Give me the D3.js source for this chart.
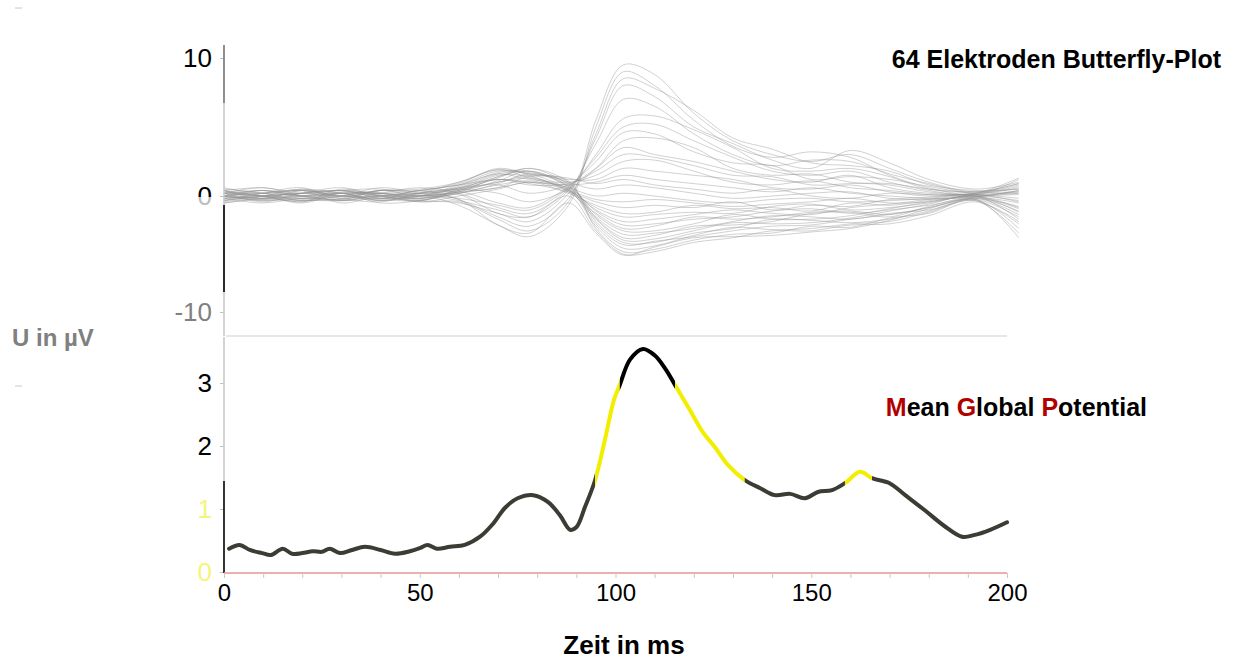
<!DOCTYPE html>
<html>
<head>
<meta charset="utf-8">
<script src="https://cdn.jsdelivr.net/npm/d3@7"></script>
<style>
  body { margin: 0; background: #fff; }
  text { font-family: "Liberation Sans", Arial, sans-serif; }
</style>
</head>
<body>
<svg id="chart" width="1233" height="660"></svg>
<script>
// ---- data ----
const timeTicks = [0, 50, 100, 150, 200];
const butterflyTicks = [-10, 0, 10];
const mgpTicks = [0, 1, 2, 3];

// ms sample points of the electrode traces (µV)
const butterflyTimes = [0, 10, 20, 30, 40, 50, 60, 70, 78, 88, 95, 102, 110, 120, 130, 140, 150, 160, 170, 180, 192, 203];
const butterflyTraces = [
  [0.5, 0.2, -0.4, 0.3, 0.1, -0.5, -0.5, -2.0, -3.0, -0.5, 5.5, 9.5, 8.8, 6.0, 4.0, 3.0, 2.5, 3.0, 2.0, 1.0, 0.3, 0.8],
  [0.2, 0.6, 0.0, -0.3, 0.4, 0.1, -0.8, -2.5, -3.5, -0.8, 5.0, 9.0, 8.0, 5.5, 3.6, 2.8, 3.2, 2.8, 1.5, 0.6, 0.1, 1.2],
  [-0.5, 0.0, 0.5, 0.2, -0.3, 0.4, -0.3, -1.8, -2.6, -0.2, 4.5, 8.5, 7.8, 6.2, 4.2, 3.4, 2.4, 2.2, 1.8, 0.8, 0.4, 0.5],
  [0.4, -0.3, 0.2, 0.6, 0.0, -0.4, -0.6, -1.5, -2.2, 0.2, 4.2, 8.0, 7.2, 5.0, 3.8, 2.6, 2.0, 3.3, 2.4, 1.2, 0.5, 1.0],
  [0.0, 0.4, -0.2, 0.0, 0.6, 0.2, -0.4, -1.2, -1.8, 0.4, 3.8, 7.0, 6.5, 4.5, 3.0, 2.2, 2.6, 2.5, 1.6, 0.9, 0.2, 0.6],
  [-0.3, 0.2, 0.6, -0.4, 0.2, 0.6, 0.2, -1.0, -1.5, 0.5, 3.0, 5.6, 5.8, 4.8, 3.5, 2.0, 1.8, 2.0, 1.4, 0.5, 0.3, 0.9],
  [0.4, 0.0, -0.5, 0.2, -0.4, 0.0, -0.2, -0.8, -1.2, 0.6, 2.8, 5.0, 5.2, 4.0, 2.8, 1.8, 1.5, 1.8, 1.0, 0.4, 0.0, 0.4],
  [0.2, -0.5, 0.2, 0.4, 0.2, -0.2, 0.3, -0.6, -1.0, 0.7, 2.5, 4.6, 4.5, 3.2, 2.4, 2.2, 1.2, 1.4, 1.2, 0.7, 0.2, 0.7],
  [-0.6, -0.2, 0.0, -0.3, 0.4, 0.3, 0.5, 0.2, -0.5, 0.5, 2.0, 4.0, 4.2, 3.5, 2.0, 1.5, 1.6, 1.0, 0.8, 0.3, 0.1, 0.3],
  [0.0, 0.2, 0.4, 0.0, -0.2, 0.2, 0.6, 0.8, 0.2, 0.8, 2.0, 3.5, 3.0, 2.5, 1.8, 1.2, 1.0, 1.5, 0.6, 0.2, 0.2, 1.3],
  [0.4, 0.6, 0.2, 0.4, 0.5, 0.0, 0.4, 1.2, 0.8, 0.9, 1.8, 3.0, 2.8, 2.2, 1.5, 1.4, 0.8, 0.9, 0.9, 0.5, 0.3, 0.5],
  [-0.2, 0.0, -0.5, 0.5, 0.0, 0.4, 0.8, 1.6, 1.2, 1.0, 1.5, 2.5, 2.6, 1.8, 1.0, 0.8, 1.1, 0.6, 0.4, 0.1, 0.0, 0.2],
  [0.2, -0.3, 0.4, -0.2, -0.5, 0.2, 0.5, 1.0, 1.5, 1.2, 1.2, 2.0, 1.8, 1.5, 1.2, 0.6, 0.5, 0.8, 0.3, 0.0, 0.2, 0.9],
  [0.0, 0.4, 0.0, 0.2, 0.2, -0.3, 0.2, 0.6, 1.0, 0.8, 1.0, 1.5, 1.2, 0.9, 0.6, 0.3, 0.6, 0.2, 0.0, -0.2, -0.1, 0.4],
  [0.6, 0.2, 0.5, 0.0, 0.4, 0.5, 1.0, 1.9, 1.6, 1.3, 0.9, 1.2, 0.8, 0.5, 0.2, 0.5, 0.0, -0.2, 0.2, 0.1, 0.1, -0.2],
  [-0.4, 0.0, 0.2, 0.4, -0.2, 0.0, 0.3, 1.4, 1.8, 1.0, 0.5, 0.8, 0.6, 0.2, -0.2, 0.0, 0.2, 0.3, -0.2, -0.3, 0.0, 0.1],
  [0.2, 0.0, -0.3, -0.4, 0.0, 0.2, 0.4, 1.0, 1.3, 0.6, 0.0, 0.2, 0.0, -0.4, -0.6, -0.3, -0.2, -0.5, -0.4, -0.2, 0.1, -0.5],
  [0.0, -0.4, 0.0, 0.2, -0.6, -0.4, 0.2, 0.8, 1.1, 0.4, -0.3, -0.5, -0.3, -0.6, -0.9, -0.7, -0.5, -0.2, -0.6, -0.5, 0.0, -1.0],
  [-0.4, 0.2, 0.4, 0.0, 0.2, 0.0, 0.6, 1.2, 0.9, 0.3, -0.5, -1.0, -0.8, -1.0, -0.5, -1.2, -0.8, -0.9, -0.3, -0.1, 0.2, 0.3],
  [0.3, 0.0, -0.6, 0.2, 0.0, -0.5, 0.0, 0.5, 1.0, 0.2, -0.8, -1.5, -1.4, -0.8, -1.1, -1.0, -1.3, -0.6, -0.8, -0.4, -0.1, -0.6],
  [-0.2, -0.6, -0.2, -0.4, 0.2, 0.2, 0.5, 1.5, 1.4, 0.4, -1.0, -1.8, -1.6, -1.4, -1.5, -0.9, -0.7, -1.2, -1.0, -0.6, 0.0, -1.4],
  [0.2, 0.4, 0.0, 0.2, -0.4, 0.0, 0.8, 1.8, 1.6, 0.5, -1.2, -2.2, -2.0, -1.6, -1.2, -1.5, -1.6, -1.0, -0.7, -0.3, 0.1, 0.2],
  [-0.6, -0.2, 0.2, -0.2, 0.0, -0.2, 0.3, 1.1, 1.8, 0.7, -1.3, -2.5, -2.4, -2.0, -1.8, -1.3, -1.1, -1.5, -1.2, -0.8, -0.2, -0.9],
  [0.0, 0.2, -0.4, 0.0, 0.4, 0.4, 0.9, 2.0, 1.5, 0.3, -1.5, -2.8, -2.6, -1.8, -2.0, -1.8, -1.4, -1.3, -1.6, -1.0, -0.3, -1.8],
  [0.4, -0.2, 0.0, 0.4, -0.2, -0.4, 0.4, 1.3, 2.0, 0.8, -1.6, -3.0, -3.0, -2.4, -1.6, -2.0, -2.0, -1.7, -1.1, -0.5, 0.0, -0.4],
  [-0.2, 0.0, 0.4, -0.6, 0.0, 0.0, 0.7, 1.7, 1.8, 0.6, -1.8, -3.3, -3.2, -2.8, -2.2, -1.7, -1.8, -2.0, -1.5, -1.2, -0.4, -2.4],
  [0.0, -0.4, -0.2, 0.2, 0.2, -0.2, 0.2, 0.9, 1.6, 0.9, -1.9, -3.6, -3.4, -2.6, -2.5, -2.2, -1.5, -1.4, -1.8, -0.9, -0.1, -1.1],
  [0.2, 0.2, 0.0, 0.0, -0.4, 0.2, 1.0, 1.9, 1.3, 0.4, -2.0, -3.8, -3.7, -3.0, -2.3, -2.4, -2.3, -1.9, -1.3, -0.7, 0.0, -2.0],
  [-0.4, 0.0, 0.2, 0.4, 0.0, -0.4, 0.5, 1.4, 2.0, 1.0, -2.2, -4.0, -4.0, -3.2, -2.8, -2.0, -2.1, -2.3, -2.0, -1.3, -0.3, -2.8],
  [0.0, -0.2, -0.4, -0.2, 0.4, 0.0, 0.6, 1.6, 1.7, 0.7, -2.4, -4.2, -3.9, -3.5, -3.0, -2.6, -2.5, -2.0, -1.6, -1.0, -0.2, -1.6],
  [0.4, 0.0, 0.2, 0.0, 0.0, 0.4, 0.8, 1.2, 1.0, 0.5, -2.6, -4.5, -4.3, -3.4, -2.7, -2.9, -2.8, -2.4, -2.2, -1.4, -0.4, -3.2],
  [-0.2, 0.4, 0.0, -0.4, -0.2, -0.2, 0.3, 0.6, 1.4, 1.1, -2.8, -4.8, -4.6, -3.8, -3.3, -3.2, -2.6, -2.7, -1.9, -1.5, -0.3, -3.6],
  [0.0, -0.2, 0.4, 0.2, 0.2, 0.0, 0.1, -1.5, -1.8, 0.0, -3.0, -5.0, -4.8, -4.0, -3.6, -3.0, -3.0, -2.5, -2.4, -1.7, -0.5, -2.2],
  [0.2, 0.0, -0.2, 0.0, -0.2, 0.2, -0.3, -2.5, -3.2, -0.6, -3.2, -5.1, -4.4, -3.6, -3.5, -3.4, -3.1, -2.8, -2.1, -1.1, -0.2, -1.3]
];

// Mean Global Potential (µV)
const mgpTimes = [1.3, 4, 6.6, 9.7, 12, 15, 17.4, 20, 22.7, 25, 27, 29.6, 32.7, 36, 40, 43.7, 47.5, 50, 52, 54.4, 57.7, 61.5, 65.4, 68.5, 71.8, 75, 79, 82.8, 85.8, 88.4, 90, 92.2, 94.8, 97.3, 99.6, 101.1, 103.7, 107, 110, 112.9, 115.2, 119, 122.3, 125.4, 128.7, 133, 137, 140.7, 144.6, 148.4, 151.7, 155.3, 158.6, 162.5, 165.5, 170, 174, 179, 184, 188.5, 191.8, 195.7, 200];
const mgpValues = [0.37, 0.43, 0.35, 0.30, 0.27, 0.37, 0.29, 0.30, 0.33, 0.32, 0.37, 0.30, 0.35, 0.40, 0.35, 0.29, 0.33, 0.38, 0.43, 0.37, 0.40, 0.43, 0.56, 0.75, 1.02, 1.17, 1.22, 1.11, 0.90, 0.67, 0.71, 1.03, 1.46, 2.10, 2.73, 2.97, 3.37, 3.54, 3.44, 3.21, 2.97, 2.57, 2.22, 1.98, 1.70, 1.46, 1.33, 1.22, 1.24, 1.17, 1.27, 1.30, 1.41, 1.59, 1.49, 1.41, 1.22, 0.98, 0.73, 0.56, 0.59, 0.67, 0.79];

// highlighted stretches of the MGP curve
const mgpSegStart = [0, 94.8, 101.1, 115.2, 133, 158.6, 165.5];
const mgpSegEnd   = [94.8, 101.1, 115.2, 133, 158.6, 165.5, 200];
const mgpSegKind  = ["base", "rise", "peak", "rise", "base", "rise", "base"];

// ---- drawing ----
const segColor = {base: "#3c3c34", rise: "#f2ee00", peak: "#000000"};
const svg = d3.select("#chart");

const x = d3.scaleLinear().domain([0, 200]).range([224, 1007]);
const yTop = d3.scaleLinear().domain([-10, 0, 10]).range([312, 196, 58]);
const yBot = d3.scaleLinear().domain([0, 3]).range([572, 383]);

const defs = svg.append("defs");
const grad = defs.append("linearGradient").attr("id", "zeroFill")
    .attr("x1", 0).attr("y1", 0).attr("x2", 0).attr("y2", 1);
grad.append("stop").attr("offset", "55%").attr("stop-color", "#000");
grad.append("stop").attr("offset", "55%").attr("stop-color", "#bbbbbb");

// butterfly traces
const traceLine = d3.line()
    .x((d, i) => x(butterflyTimes[i]))
    .y(d => yTop(d))
    .curve(d3.curveCatmullRom.alpha(0.5));

svg.append("g").selectAll("path")
    .data(butterflyTraces)
    .join("path")
    .attr("d", traceLine)
    .attr("fill", "none")
    .attr("stroke", "#909090")
    .attr("stroke-opacity", 0.7)
    .attr("stroke-width", 0.6);

// separator between panels
svg.append("line")
    .attr("x1", 226).attr("x2", 1007).attr("y1", 336).attr("y2", 336)
    .attr("stroke", "#d0d0d0").attr("stroke-width", 1.2);

// MGP curve, coloured in stretches
const mgpPoints = mgpTimes.map((t, i) => [t, mgpValues[i]]);
const mgpLine = d3.line()
    .x(d => x(d[0]))
    .y(d => yBot(d[1]))
    .curve(d3.curveCatmullRom.alpha(0.5));

mgpSegStart.forEach((s, i) => {
    const id = "seg" + i;
    const x0 = i === 0 ? x(s) - 10 : x(s);
    const x1 = i === mgpSegStart.length - 1 ? x(mgpSegEnd[i]) + 10 : x(mgpSegEnd[i]);
    defs.append("clipPath").attr("id", id)
        .append("rect")
        .attr("x", x0).attr("width", x1 - x0)
        .attr("y", 330).attr("height", 260);
    svg.append("path")
        .datum(mgpPoints)
        .attr("d", mgpLine)
        .attr("clip-path", "url(#" + id + ")")
        .attr("fill", "none")
        .attr("stroke", segColor[mgpSegKind[i]])
        .attr("stroke-width", 4)
        .attr("stroke-linecap", "round")
        .attr("stroke-linejoin", "round");
});

// top y axis
const axTop = svg.append("g")
    .attr("transform", "translate(224,0)")
    .call(d3.axisLeft(yTop).tickValues(butterflyTicks).tickSize(4).tickPadding(8)
        .tickFormat(d => String(d)));
axTop.select(".domain").remove();
axTop.selectAll(".tick line").attr("stroke", "#c0c0c0");
axTop.selectAll(".tick text")
    .style("font-size", "26px")
    .attr("fill", d => d === 10 ? "#000" : d === 0 ? "url(#zeroFill)" : "#808080");

svg.append("line").attr("x1", 224).attr("x2", 224).attr("y1", 45).attr("y2", 336)
    .attr("stroke", "#c8c8c8").attr("stroke-width", 1.6);
svg.append("line").attr("x1", 224).attr("x2", 224).attr("y1", 45).attr("y2", 103)
    .attr("stroke", "#707070").attr("stroke-width", 1.4);
svg.append("line").attr("x1", 224).attr("x2", 224).attr("y1", 205).attr("y2", 292)
    .attr("stroke", "#000").attr("stroke-width", 1.6);

// bottom y axis
const axBot = svg.append("g")
    .attr("transform", "translate(224,0)")
    .call(d3.axisLeft(yBot).tickValues(mgpTicks).tickSize(4).tickPadding(8).tickFormat(d3.format("d")));
axBot.select(".domain").remove();
axBot.selectAll(".tick line").attr("stroke", "#c0c0c0");
axBot.selectAll(".tick text")
    .style("font-size", "26px")
    .attr("fill", d => d >= 2 ? "#000" : "#f4f47a");

svg.append("line").attr("x1", 224).attr("x2", 224).attr("y1", 337).attr("y2", 481)
    .attr("stroke", "#c8c8c8").attr("stroke-width", 1.6);
svg.append("line").attr("x1", 224).attr("x2", 224).attr("y1", 481).attr("y2", 573)
    .attr("stroke", "#000").attr("stroke-width", 1.6);

// x axis
const axX = svg.append("g")
    .attr("transform", "translate(0,573)")
    .call(d3.axisBottom(x).tickValues(d3.range(0, 201, 10)).tickSize(5).tickPadding(6)
        .tickFormat(d => timeTicks.includes(d) ? d : ""));
axX.select(".domain").attr("stroke", "#e49494").attr("stroke-width", 1.4)
    .attr("d", "M" + x(0) + ",0H" + x(200));
axX.selectAll(".tick line").attr("stroke", "#c8c8c8");
axX.selectAll(".tick text").style("font-size", "24px").attr("fill", "#000");

// titles and labels
svg.append("text")
    .attr("x", 1221).attr("y", 68)
    .attr("text-anchor", "end")
    .style("font-size", "25px").style("font-weight", "bold")
    .text("64 Elektroden Butterfly-Plot");

const mgpTitle = svg.append("text")
    .attr("x", 1147).attr("y", 416)
    .attr("text-anchor", "end")
    .style("font-size", "25px").style("font-weight", "bold");
[["M", true], ["ean ", false], ["G", true], ["lobal ", false], ["P", true], ["otential", false]]
    .forEach(p => mgpTitle.append("tspan").attr("fill", p[1] ? "#b00000" : "#000").text(p[0]));

svg.append("text")
    .attr("x", 12).attr("y", 346)
    .attr("fill", "#808080")
    .style("font-size", "24px").style("font-weight", "bold")
    .text("U in µV");

svg.append("text")
    .attr("x", 624).attr("y", 654)
    .attr("text-anchor", "middle")
    .style("font-size", "26px").style("font-weight", "bold")
    .text("Zeit in ms");

// small marks at the left edge
[8, 386].forEach(yy => svg.append("line")
    .attr("x1", 15).attr("x2", 22).attr("y1", yy).attr("y2", yy)
    .attr("stroke", "#c8c8c8").attr("stroke-width", 1));
</script>
</body>
</html>
